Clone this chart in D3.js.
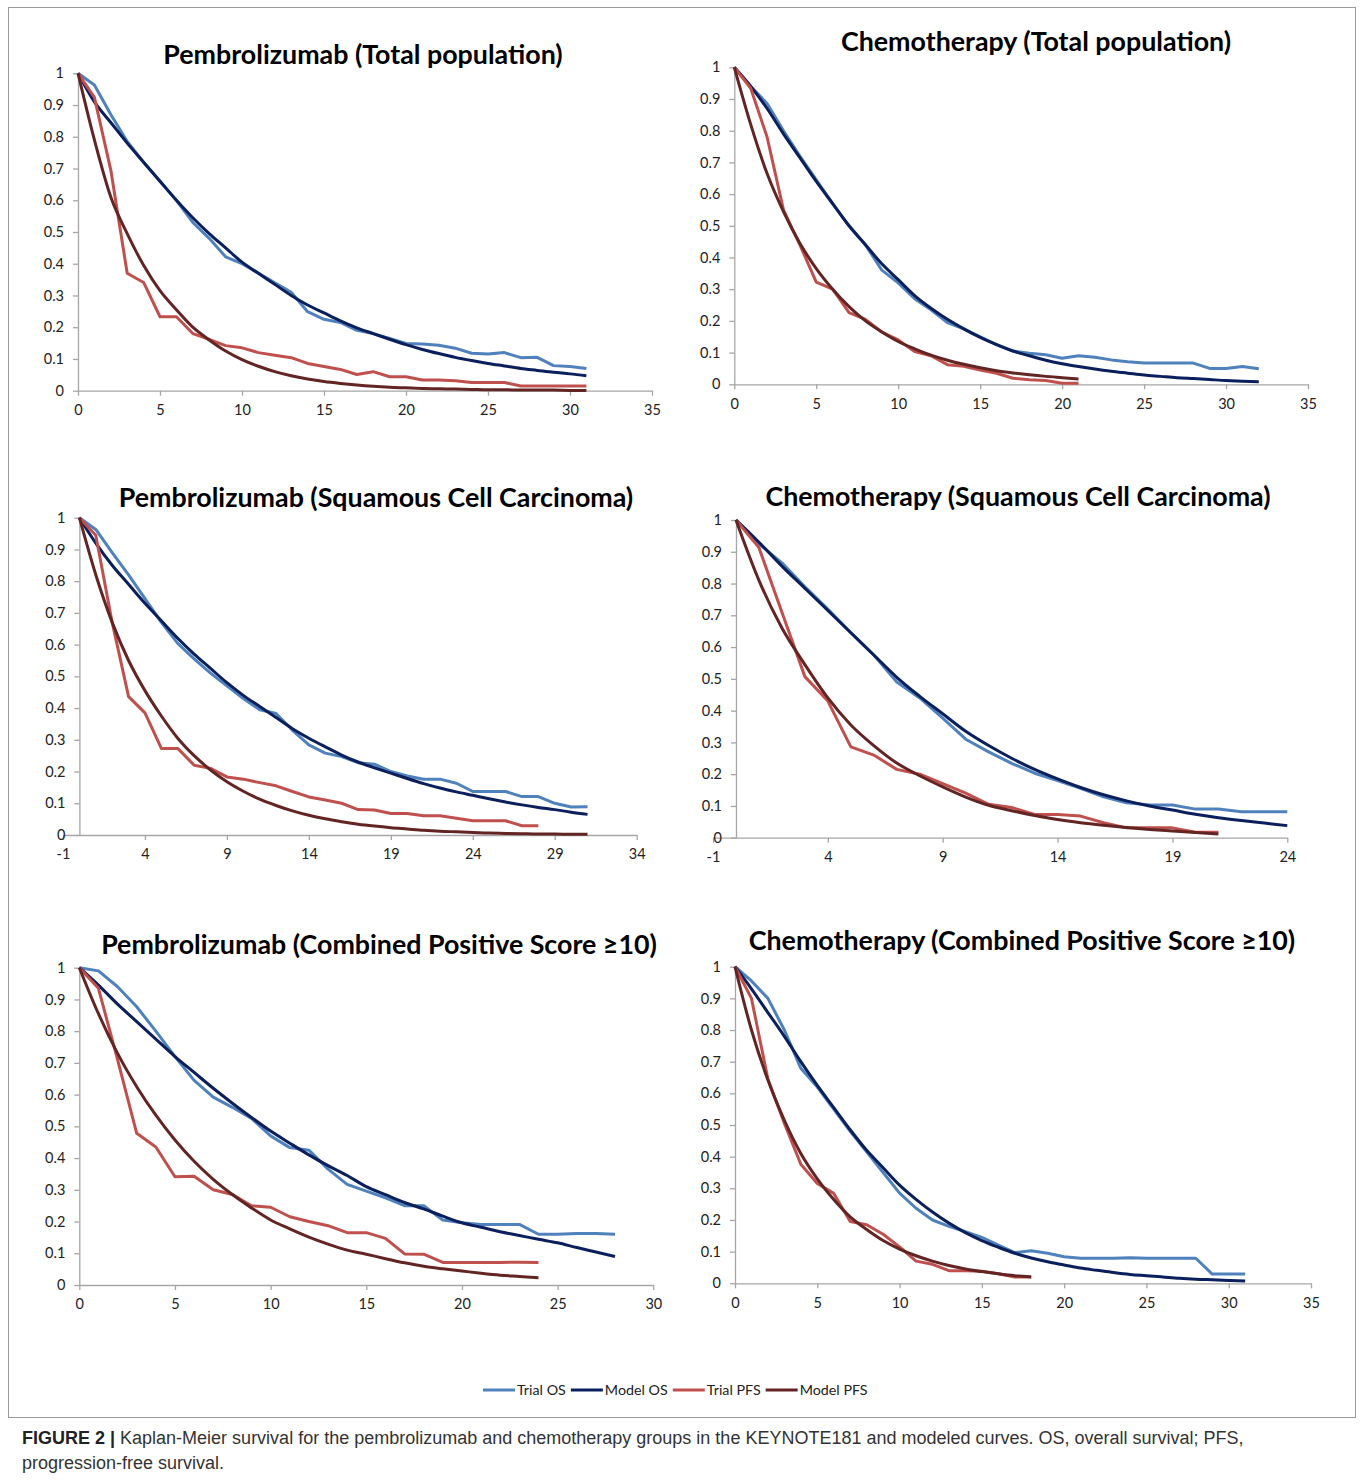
<!DOCTYPE html>
<html>
<head>
<meta charset="utf-8">
<script src="https://cdn.jsdelivr.net/npm/d3@7"></script>
<style>
  body { margin: 0; background: #fff; }
  .tick text { font-family: Lato, "Open Sans", sans-serif; font-size: 14.5px; fill: #222; }
  .domain, .tick line { stroke: #a6a6a6; stroke-width: 1.3; }
</style>
</head>
<body>
<div class="canvas"></div>
<script>
// survival proportion at each month (array index = month)

// Pembrolizumab, total population
const pembroTotalTrialOS = [1, 0.963, 0.87, 0.785, 0.72, 0.66, 0.6, 0.53, 0.48, 0.422, 0.4, 0.37, 0.34, 0.31, 0.249, 0.225, 0.215, 0.19, 0.18, 0.165, 0.149, 0.147, 0.143, 0.134, 0.118, 0.116, 0.12, 0.104, 0.105, 0.079, 0.076, 0.07];
const pembroTotalModelOS = [1, 0.91, 0.845, 0.78, 0.72, 0.66, 0.6, 0.545, 0.495, 0.45, 0.405, 0.37, 0.335, 0.3, 0.27, 0.245, 0.22, 0.198, 0.18, 0.162, 0.145, 0.13, 0.117, 0.105, 0.095, 0.086, 0.078, 0.07, 0.064, 0.058, 0.053, 0.047];
const pembroTotalTrialPFS = [1, 0.924, 0.695, 0.37, 0.341, 0.233, 0.233, 0.18, 0.162, 0.142, 0.135, 0.12, 0.112, 0.104, 0.086, 0.076, 0.067, 0.051, 0.06, 0.044, 0.044, 0.034, 0.034, 0.031, 0.026, 0.026, 0.026, 0.015, 0.015, 0.015, 0.015, 0.015];
const pembroTotalModelPFS = [1, 0.79, 0.61, 0.495, 0.395, 0.315, 0.255, 0.2, 0.16, 0.125, 0.098, 0.077, 0.06, 0.047, 0.037, 0.029, 0.023, 0.018, 0.014, 0.011, 0.009, 0.007, 0.006, 0.005, 0.004, 0.003, 0.003, 0.002, 0.002, 0.002, 0.001, 0.001];

// Chemotherapy, total population
const chemoTotalTrialOS = [1, 0.94, 0.886, 0.8, 0.72, 0.645, 0.57, 0.5, 0.44, 0.36, 0.32, 0.27, 0.235, 0.195, 0.175, 0.15, 0.125, 0.105, 0.098, 0.093, 0.082, 0.09, 0.085, 0.077, 0.071, 0.067, 0.067, 0.067, 0.067, 0.05, 0.05, 0.056, 0.049];
const chemoTotalModelOS = [1, 0.94, 0.87, 0.79, 0.715, 0.64, 0.57, 0.5, 0.44, 0.38, 0.33, 0.28, 0.24, 0.205, 0.175, 0.148, 0.125, 0.105, 0.09, 0.076, 0.065, 0.056, 0.048, 0.041, 0.035, 0.029, 0.025, 0.021, 0.018, 0.015, 0.012, 0.01, 0.008];
const chemoTotalTrialPFS = [1, 0.934, 0.78, 0.55, 0.44, 0.322, 0.3, 0.226, 0.205, 0.165, 0.14, 0.103, 0.09, 0.062, 0.057, 0.045, 0.035, 0.019, 0.014, 0.012, 0.003, 0.003];
const chemoTotalModelPFS = [1, 0.82, 0.665, 0.545, 0.445, 0.365, 0.3, 0.245, 0.2, 0.165, 0.135, 0.112, 0.092, 0.076, 0.063, 0.052, 0.043, 0.036, 0.03, 0.025, 0.021, 0.017];

// Pembrolizumab, squamous cell carcinoma
const pembroSccTrialOS = [1, 0.963, 0.89, 0.82, 0.745, 0.67, 0.604, 0.555, 0.51, 0.47, 0.43, 0.395, 0.383, 0.33, 0.284, 0.258, 0.247, 0.228, 0.223, 0.2, 0.186, 0.176, 0.176, 0.163, 0.137, 0.137, 0.137, 0.121, 0.121, 0.1, 0.088, 0.089];
const pembroSccModelOS = [1, 0.92, 0.85, 0.79, 0.73, 0.675, 0.62, 0.57, 0.525, 0.48, 0.44, 0.405, 0.37, 0.335, 0.305, 0.278, 0.252, 0.23, 0.212, 0.195, 0.178, 0.162, 0.148, 0.136, 0.125, 0.114, 0.104, 0.095, 0.087, 0.08, 0.072, 0.065];
const pembroSccTrialPFS = [1, 0.945, 0.67, 0.436, 0.385, 0.273, 0.273, 0.22, 0.21, 0.183, 0.176, 0.165, 0.155, 0.137, 0.12, 0.11, 0.1, 0.08, 0.079, 0.068, 0.068, 0.061, 0.061, 0.053, 0.045, 0.045, 0.045, 0.029, 0.029];
const pembroSccModelPFS = [1, 0.82, 0.67, 0.55, 0.455, 0.375, 0.305, 0.25, 0.205, 0.168, 0.138, 0.113, 0.093, 0.076, 0.062, 0.051, 0.042, 0.034, 0.028, 0.023, 0.019, 0.015, 0.012, 0.01, 0.008, 0.006, 0.005, 0.004, 0.003, 0.003, 0.002, 0.002];

// Chemotherapy, squamous cell carcinoma
const chemoSccTrialOS = [1, 0.925, 0.865, 0.79, 0.72, 0.645, 0.575, 0.49, 0.44, 0.376, 0.31, 0.27, 0.234, 0.203, 0.18, 0.155, 0.129, 0.11, 0.103, 0.103, 0.09, 0.09, 0.082, 0.082, 0.082];
const chemoSccModelOS = [1, 0.93, 0.855, 0.785, 0.715, 0.645, 0.575, 0.505, 0.445, 0.39, 0.335, 0.29, 0.25, 0.215, 0.185, 0.158, 0.135, 0.116, 0.1, 0.087, 0.074, 0.063, 0.054, 0.046, 0.038];
const chemoSccTrialPFS = [1, 0.913, 0.71, 0.507, 0.43, 0.286, 0.26, 0.215, 0.2, 0.17, 0.14, 0.105, 0.095, 0.073, 0.073, 0.068, 0.047, 0.031, 0.031, 0.031, 0.017, 0.017];
const chemoSccModelPFS = [1, 0.81, 0.66, 0.545, 0.44, 0.355, 0.29, 0.235, 0.195, 0.16, 0.128, 0.102, 0.085, 0.07, 0.057, 0.047, 0.039, 0.032, 0.026, 0.021, 0.016, 0.012];

// Pembrolizumab, combined positive score >= 10
const pembroCpsTrialOS = [1, 0.99, 0.94, 0.877, 0.8, 0.72, 0.645, 0.592, 0.56, 0.525, 0.47, 0.433, 0.425, 0.365, 0.317, 0.296, 0.275, 0.25, 0.25, 0.205, 0.196, 0.191, 0.191, 0.191, 0.16, 0.16, 0.162, 0.162, 0.16];
const pembroCpsModelOS = [1, 0.945, 0.885, 0.83, 0.775, 0.72, 0.67, 0.62, 0.573, 0.528, 0.485, 0.447, 0.41, 0.376, 0.345, 0.31, 0.285, 0.26, 0.24, 0.217, 0.196, 0.182, 0.168, 0.156, 0.144, 0.133, 0.118, 0.104, 0.09];
const pembroCpsTrialPFS = [1, 0.935, 0.71, 0.478, 0.435, 0.341, 0.343, 0.3, 0.285, 0.25, 0.245, 0.215, 0.2, 0.187, 0.165, 0.165, 0.147, 0.098, 0.097, 0.071, 0.071, 0.071, 0.071, 0.072, 0.071];
const pembroCpsModelPFS = [1, 0.855, 0.73, 0.625, 0.535, 0.457, 0.39, 0.333, 0.285, 0.243, 0.205, 0.177, 0.151, 0.129, 0.11, 0.097, 0.083, 0.07, 0.059, 0.051, 0.044, 0.037, 0.031, 0.027, 0.023];

// Chemotherapy, combined positive score >= 10
const chemoCpsTrialOS = [1, 0.955, 0.9, 0.8, 0.679, 0.62, 0.55, 0.48, 0.415, 0.35, 0.285, 0.237, 0.2, 0.18, 0.163, 0.145, 0.121, 0.097, 0.103, 0.095, 0.084, 0.079, 0.079, 0.079, 0.081, 0.079, 0.079, 0.079, 0.079, 0.029, 0.029, 0.029];
const chemoCpsModelOS = [1, 0.93, 0.855, 0.78, 0.7, 0.625, 0.555, 0.485, 0.42, 0.365, 0.31, 0.265, 0.225, 0.19, 0.16, 0.135, 0.114, 0.095, 0.08, 0.068, 0.058, 0.048, 0.041, 0.034, 0.028, 0.024, 0.02, 0.016, 0.013, 0.011, 0.009, 0.007];
const chemoCpsTrialPFS = [1, 0.9, 0.645, 0.505, 0.376, 0.315, 0.284, 0.195, 0.185, 0.155, 0.115, 0.07, 0.06, 0.04, 0.04, 0.038, 0.03, 0.02, 0.02];
const chemoCpsModelPFS = [1, 0.8, 0.642, 0.515, 0.41, 0.33, 0.265, 0.21, 0.17, 0.135, 0.108, 0.087, 0.07, 0.056, 0.045, 0.037, 0.03, 0.024, 0.02];

// tick labels
const yTicks = [0, 0.1, 0.2, 0.3, 0.4, 0.5, 0.6, 0.7, 0.8, 0.9, 1];
const xTicksTotal = [0, 5, 10, 15, 20, 25, 30, 35];
const xTicksPembroScc = [-1, 4, 9, 14, 19, 24, 29, 34];
const xTicksChemoScc = [-1, 4, 9, 14, 19, 24];
const xTicksCps = [0, 5, 10, 15, 20, 25, 30];

const seriesNames = ["Trial OS", "Model OS", "Trial PFS", "Model PFS"];
const seriesColors = ["#4f81bd", "#0a1f5c", "#c0504d", "#632523"];
const seriesSmooth = [false, true, false, true];

// panel layout (pixel boxes of each plot area)
const panels = [
  { title: "Pembrolizumab (Total population)", tx: 363, ty: 64,
    data: [pembroTotalTrialOS, pembroTotalModelOS, pembroTotalTrialPFS, pembroTotalModelPFS],
    xDomain: [0, 35], xTicks: xTicksTotal, left: 78, right: 652, top: 73.3, bottom: 390.7 },
  { title: "Chemotherapy (Total population)", tx: 1036, ty: 51,
    data: [chemoTotalTrialOS, chemoTotalModelOS, chemoTotalTrialPFS, chemoTotalModelPFS],
    xDomain: [0, 35], xTicks: xTicksTotal, left: 734.3, right: 1308, top: 67.3, bottom: 384.3 },
  { title: "Pembrolizumab (Squamous Cell Carcinoma)", tx: 376, ty: 507,
    data: [pembroSccTrialOS, pembroSccModelOS, pembroSccTrialPFS, pembroSccModelPFS],
    xDomain: [-1, 34], xTicks: xTicksPembroScc, left: 63, right: 636.7, top: 517.7, bottom: 835 },
  { title: "Chemotherapy (Squamous Cell Carcinoma)", tx: 1018, ty: 506,
    data: [chemoSccTrialOS, chemoSccModelOS, chemoSccTrialPFS, chemoSccModelPFS],
    xDomain: [-1, 24], xTicks: xTicksChemoScc, left: 713, right: 1287.3, top: 520, bottom: 837.7 },
  { title: "Pembrolizumab (Combined Positive Score ≥10)", tx: 379, ty: 954,
    data: [pembroCpsTrialOS, pembroCpsModelOS, pembroCpsTrialPFS, pembroCpsModelPFS],
    xDomain: [0, 30], xTicks: xTicksCps, left: 79.3, right: 653.3, top: 967.7, bottom: 1285 },
  { title: "Chemotherapy (Combined Positive Score ≥10)", tx: 1022, ty: 950,
    data: [chemoCpsTrialOS, chemoCpsModelOS, chemoCpsTrialPFS, chemoCpsModelPFS],
    xDomain: [0, 35], xTicks: xTicksTotal, left: 735, right: 1311, top: 966.7, bottom: 1283.3 }
];

const w = 1362;
const h = 1484;

const svg = d3.select(".canvas").append("svg").attr("width", w).attr("height", h);

// figure frame
svg.append("rect")
  .attr("x", 8.5).attr("y", 7.5)
  .attr("width", 1347).attr("height", 1410)
  .attr("fill", "none").attr("stroke", "#9a9a9a");

panels.forEach((p) => {
  const x = d3.scaleLinear().domain(p.xDomain).range([p.left, p.right]);
  const y = d3.scaleLinear().domain([0, 1]).range([p.bottom, p.top]);
  const graph = svg.append("g");

  // x axis
  graph.append("g")
    .attr("transform", `translate(0, ${p.bottom})`)
    .call(d3.axisBottom(x).tickValues(p.xTicks).tickSize(5).tickSizeOuter(0).tickPadding(9).tickFormat((d) => String(d)));

  // y axis sits on month 0
  graph.append("g")
    .attr("transform", `translate(${x(0)}, 0)`)
    .call(d3.axisLeft(y).tickValues(yTicks).tickSize(5).tickSizeOuter(0).tickPadding(9).tickFormat((d) => String(+d.toFixed(1))));

  // curves
  p.data.forEach((values, k) => {
    const line = d3.line()
      .x((d, i) => x(i))
      .y((d) => y(d))
      .curve(seriesSmooth[k] ? d3.curveMonotoneX : d3.curveLinear);
    graph.append("path")
      .datum(values)
      .attr("fill", "none")
      .attr("stroke", seriesColors[k])
      .attr("stroke-width", 3)
      .attr("stroke-linejoin", "round")
      .attr("d", line);
  });

  // title
  graph.append("text")
    .attr("x", p.tx)
    .attr("y", p.ty)
    .attr("text-anchor", "middle")
    .style("font-family", "Lato, 'Open Sans', sans-serif")
    .style("font-weight", "bold")
    .style("font-size", "26.8px")
    .style("fill", "#000")
    .text(p.title);
});

// legend
const legend = svg.append("g").attr("transform", "translate(483, 1390)");
let cursor = 0;
seriesNames.forEach((name, k) => {
  legend.append("line")
    .attr("x1", cursor).attr("x2", cursor + 32)
    .attr("y1", 0).attr("y2", 0)
    .attr("stroke", seriesColors[k]).attr("stroke-width", 3);
  const label = legend.append("text")
    .attr("x", cursor + 34).attr("y", 5)
    .style("font-family", "Lato, 'Open Sans', sans-serif")
    .style("font-size", "14.3px")
    .style("fill", "#222")
    .text(name);
  cursor += 34 + label.node().getComputedTextLength() + 5;
});

// caption
const caption = svg.append("text")
  .attr("x", 22).attr("y", 1444)
  .style("font-family", "'Liberation Sans', Arial, sans-serif")
  .style("font-size", "18px")
  .style("fill", "#333");
caption.append("tspan").style("font-weight", "bold").style("fill", "#222").text("FIGURE 2 | ");
caption.append("tspan").text("Kaplan-Meier survival for the pembrolizumab and chemotherapy groups in the KEYNOTE181 and modeled curves. OS, overall survival; PFS,");
svg.append("text")
  .attr("x", 22).attr("y", 1469)
  .style("font-family", "'Liberation Sans', Arial, sans-serif")
  .style("font-size", "18px")
  .style("fill", "#333")
  .text("progression-free survival.");
</script>
</body>
</html>
